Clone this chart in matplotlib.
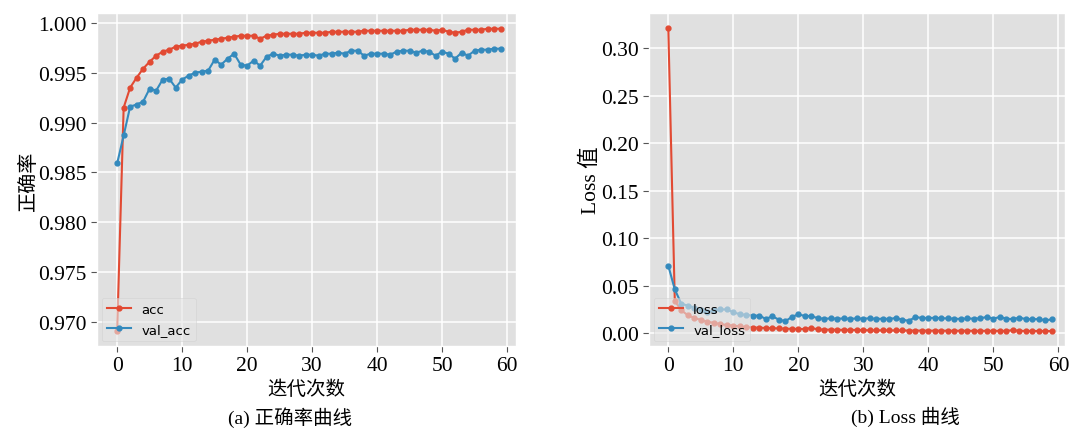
import matplotlib
matplotlib.use("Agg")
import matplotlib.pyplot as plt
import numpy as np

plt.style.use("ggplot")

epochs = list(range(60))

acc = [0.9691, 0.9915, 0.9935, 0.9945, 0.9954, 0.9961, 0.9967, 0.9971, 0.9973, 0.9976,
       0.9977, 0.9978, 0.9979, 0.9981, 0.9982, 0.9983, 0.9984, 0.9985, 0.9986, 0.9987,
       0.9987, 0.9987, 0.9984, 0.9987, 0.9988, 0.9989, 0.9989, 0.9989, 0.9989, 0.9990,
       0.9990, 0.9990, 0.9990, 0.9991, 0.9991, 0.9991, 0.9991, 0.9991, 0.9992, 0.9992,
       0.9992, 0.9992, 0.9992, 0.9992, 0.9992, 0.9993, 0.9993, 0.9993, 0.9993, 0.9992,
       0.9993, 0.9991, 0.9990, 0.9991, 0.9993, 0.9993, 0.9993, 0.9994, 0.9994, 0.9994]

val_acc = [0.9859, 0.9887, 0.9916, 0.9918, 0.9921, 0.9934, 0.9932, 0.9943, 0.9944, 0.9935,
           0.9943, 0.9947, 0.9950, 0.9951, 0.9952, 0.9963, 0.9958, 0.9964, 0.9969, 0.9958,
           0.9957, 0.9962, 0.9957, 0.9966, 0.9969, 0.9967, 0.9968, 0.9968, 0.9967, 0.9968,
           0.9968, 0.9967, 0.9969, 0.9969, 0.9970, 0.9969, 0.9972, 0.9972, 0.9967, 0.9969,
           0.9969, 0.9969, 0.9968, 0.9971, 0.9972, 0.9972, 0.9970, 0.9972, 0.9971, 0.9967,
           0.9971, 0.9969, 0.9964, 0.9970, 0.9967, 0.9972, 0.9973, 0.9973, 0.9974, 0.9974]

loss = [0.321, 0.034, 0.024, 0.019, 0.016, 0.014, 0.012, 0.011, 0.0095, 0.0087,
        0.0080, 0.0072, 0.0063, 0.0060, 0.0058, 0.0055, 0.0053, 0.0050, 0.0048, 0.0046,
        0.0045, 0.0044, 0.0056, 0.0040, 0.0038, 0.0037, 0.0036, 0.0035, 0.0035, 0.0034,
        0.0033, 0.0030, 0.0030, 0.0030, 0.0029, 0.0029, 0.0029, 0.0028, 0.0028, 0.0028,
        0.0027, 0.0027, 0.0027, 0.0026, 0.0026, 0.0026, 0.0026, 0.0025, 0.0025, 0.0025,
        0.0025, 0.0025, 0.0024, 0.0033, 0.0025, 0.0024, 0.0024, 0.0023, 0.0023, 0.0022]

val_loss = [0.071, 0.046, 0.031, 0.029, 0.027, 0.024, 0.022, 0.024, 0.025, 0.025,
            0.022, 0.020, 0.0192, 0.0185, 0.0185, 0.0150, 0.0178, 0.0143, 0.0126, 0.0171,
            0.0199, 0.0181, 0.0181, 0.0157, 0.0153, 0.0155, 0.0153, 0.0155, 0.0152, 0.0155,
            0.0153, 0.0157, 0.0150, 0.0153, 0.0150, 0.0160, 0.0143, 0.0130, 0.0171, 0.0160,
            0.0160, 0.0162, 0.0158, 0.0155, 0.0153, 0.0150, 0.0155, 0.0153, 0.0157, 0.0171,
            0.0153, 0.0171, 0.0153, 0.0148, 0.0164, 0.0148, 0.0148, 0.0148, 0.0136, 0.0145]

acc_yticks = [0.970, 0.975, 0.980, 0.985, 0.990, 0.995, 1.000]
loss_yticks = [0.00, 0.05, 0.10, 0.15, 0.20, 0.25, 0.30]
xticks = [0, 10, 20, 30, 40, 50, 60]

RED = "#E24A33"
BLUE = "#348ABD"
serif = ["Liberation Serif", "Noto Sans CJK SC"]
cjk = ["Noto Sans CJK SC", "Liberation Serif"]

fig = plt.figure(figsize=(10.72, 4.31), dpi=100)
fig.patch.set_facecolor("white")
ax1 = fig.add_axes([0.0905, 0.195, 0.391, 0.773])
ax2 = fig.add_axes([0.6054, 0.195, 0.388, 0.773])

def style(ax, yticks, fmt):
    ax.set_facecolor("#E0E0E0")
    ax.grid(True, color="white", linewidth=1.1)
    ax.set_xticks(xticks)
    ax.set_yticks(yticks)
    ax.set_xticklabels([str(t) for t in xticks], fontfamily=serif, fontsize=15.5, color="black")
    ax.set_yticklabels([fmt.format(t) for t in yticks], fontfamily=serif, fontsize=15.5, color="black")
    ax.tick_params(axis="both", colors="#555555", labelcolor="black", length=4)

ax1.plot(epochs, acc, color=RED, marker="o", markersize=3.5, linewidth=1.5, label="acc")
ax1.plot(epochs, val_acc, color=BLUE, marker="o", markersize=3.5, linewidth=1.5, label="val_acc")
style(ax1, acc_yticks, "{:.3f}")
ax1.set_xlim(-3.1, 61.4)
ax1.set_ylim(0.9676, 1.0010)
ax1.set_ylabel("正确率", fontfamily=cjk, fontsize=14.5, color="black", labelpad=-1)
ax1.set_xlabel("迭代次数", fontfamily=cjk, fontsize=14, color="black", labelpad=2)
ax1.legend(loc="lower left", fontsize=9.5, framealpha=0.6, borderaxespad=0.35,
           handlelength=1.8, labelspacing=0.55)

ax2.plot(epochs, loss, color=RED, marker="o", markersize=3.5, linewidth=1.5, label="loss")
ax2.plot(epochs, val_loss, color=BLUE, marker="o", markersize=3.5, linewidth=1.5, label="val_loss")
style(ax2, loss_yticks, "{:.2f}")
ax2.set_xlim(-2.97, 61.0)
ax2.set_ylim(-0.0134, 0.337)
ax2.set_ylabel("Loss 值", fontfamily=serif, fontsize=15.5, color="black", labelpad=0)
ax2.set_xlabel("迭代次数", fontfamily=cjk, fontsize=14, color="black", labelpad=2)
ax2.legend(loc="lower left", fontsize=9.5, framealpha=0.6, borderaxespad=0.35,
           handlelength=1.8, labelspacing=0.55)

fig.text(0.2705, 0.032, "(a) 正确率曲线", fontfamily=serif, fontsize=14, ha="center", va="center")
fig.text(0.8445, 0.032, "(b) Loss 曲线", fontfamily=serif, fontsize=14, ha="center", va="center")

fig.savefig("out.png", dpi=100, facecolor="white")
